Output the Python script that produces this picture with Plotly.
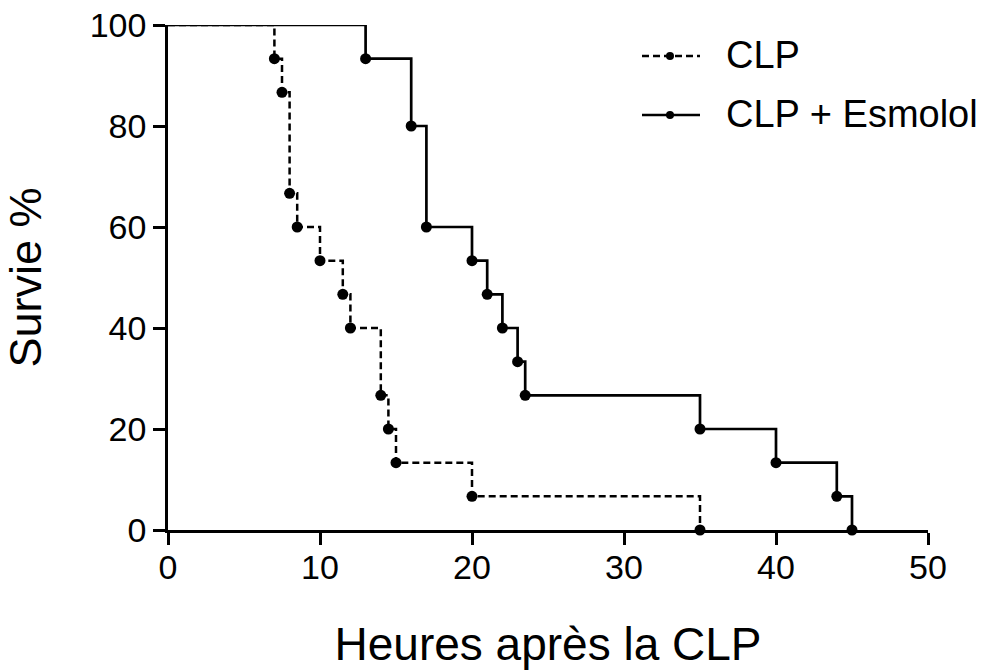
import plotly.graph_objects as go

# Kaplan-Meier survival data (hours after CLP, survival %)
clp_hours = [0, 7, 7.5, 8, 8.5, 10, 11.5, 12, 14, 14.5, 15, 20, 35]
clp_surv = [100, 93.33, 86.67, 66.67, 60, 53.33, 46.67, 40, 26.67, 20, 13.33, 6.67, 0]

esm_hours = [0, 13, 16, 17, 20, 21, 22, 23, 23.5, 35, 40, 44, 45]
esm_surv = [100, 93.33, 80, 60, 53.33, 46.67, 40, 33.33, 26.67, 20, 13.33, 6.67, 0]

series_names = ["CLP", "CLP + Esmolol"]
x_ticks = [0, 10, 20, 30, 40, 50]
y_ticks = [0, 20, 40, 60, 80, 100]

FONT = "Liberation Sans, Arial, Helvetica, sans-serif"
DASH = "7px,4px"

W, H = 1005, 670
# plot area in figure pixels
L, R, T, B = 168, 928, 25, 530
def px_x(p):
    return (p - L) / (R - L)
def px_y(p):
    return (B - p) / (B - T)

fig = go.Figure()
fig.add_trace(go.Scatter(
    x=clp_hours, y=clp_surv, name=series_names[0], mode="lines+markers",
    line=dict(shape="hv", color="black", width=2.5, dash=DASH),
    marker=dict(size=[0] + [11] * (len(clp_hours) - 1), color="black",
                opacity=1, line=dict(width=0)),
    cliponaxis=False, showlegend=False,
))
fig.add_trace(go.Scatter(
    x=esm_hours, y=esm_surv, name=series_names[1], mode="lines+markers",
    line=dict(shape="hv", color="black", width=2.7),
    marker=dict(size=[0] + [11] * (len(esm_hours) - 1), color="black",
                opacity=1, line=dict(width=0)),
    cliponaxis=False, showlegend=False,
))

axis_common = dict(
    showline=True, linecolor="black", linewidth=2.5,
    ticks="outside", ticklen=12, tickwidth=2.5, tickcolor="black",
    showgrid=False, zeroline=False, automargin=False,
    tickfont=dict(family=FONT, size=34, color="black"),
)

# hand-made legend (line sample with dot + label), positions in page pixels
shapes = []
annotations = []
for name, dash, py in zip(series_names, [DASH, "solid"], [56, 115]):
    shapes.append(dict(type="line", xref="paper", yref="paper",
                       x0=px_x(642), x1=px_x(700), y0=px_y(py), y1=px_y(py),
                       line=dict(color="black", width=2.5, dash=dash)))
    shapes.append(dict(type="circle", xref="paper", yref="paper",
                       x0=px_x(666), x1=px_x(674), y0=px_y(py + 4), y1=px_y(py - 4),
                       fillcolor="black", line=dict(width=0)))
    annotations.append(dict(text=name, xref="paper", yref="paper",
                            x=px_x(724), y=px_y(py - 1), xanchor="left", yanchor="middle",
                            showarrow=False,
                            font=dict(family=FONT, size=38, color="black")))

fig.update_layout(
    width=W, height=H,
    margin=dict(l=L, r=W - R, t=T, b=H - B, pad=0),
    paper_bgcolor="white", plot_bgcolor="white",
    font=dict(family=FONT, color="black"),
    showlegend=False,
    xaxis=dict(range=[0, 50], tickvals=x_ticks, ticktext=[str(v) for v in x_ticks],
               ticklabelstandoff=-7,
               title=dict(text="Heures après la CLP", font=dict(family=FONT, size=46), standoff=46),
               **axis_common),
    yaxis=dict(range=[0, 100], tickvals=y_ticks, ticktext=[str(v) for v in y_ticks],
               title=dict(text="Survie %", font=dict(family=FONT, size=45), standoff=44),
               **axis_common),
    shapes=shapes,
    annotations=annotations,
)

fig.write_html("out.html", config={"displayModeBar": False},
               post_script="document.body.style.margin='0';")
